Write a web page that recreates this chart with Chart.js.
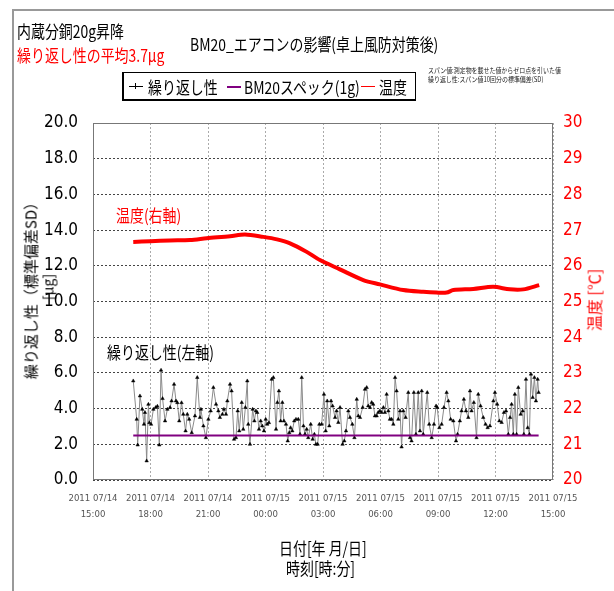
<!DOCTYPE html>
<html>
<head>
<meta charset="utf-8">
<script src="https://cdn.jsdelivr.net/npm/chart.js@4.4.0/dist/chart.umd.min.js"></script>
<style>
body { margin: 0; background: #fff; font-family: "Noto Sans CJK JP", sans-serif; }
#wrap { position: relative; width: 614px; height: 591px; overflow: hidden; }
#frame { position: absolute; left: 12px; top: 9px; width: 700px; height: 700px; border: 2px solid #999; }
#chart { position: absolute; left: 0; top: 0; }
.t { position: absolute; white-space: nowrap; line-height: 1; transform-origin: 0 50%; }
.cond { transform: scaleX(0.82); }
#legend { position: absolute; left: 122px; top: 72px; width: 291px; height: 26px; border: 1px solid #000;
  border-bottom-width: 2px; border-left-width: 2px; background: #fff; }
.sw { position: absolute; top: 13px; height: 0; }
.vert { position: absolute; white-space: nowrap; transform: translate(-50%, -50%) rotate(-90deg); text-align: center; line-height: 1.05; }
</style>
</head>
<body>
<div id="wrap">
  <div id="frame"></div>
  <canvas id="chart" width="614" height="591"></canvas>

  <div class="t cond" style="left:17px;top:22px;font-size:17px;">内蔵分銅20g昇降</div>
  <div class="t cond" style="left:17px;top:46px;font-size:17px;color:#ff0000;">繰り返し性の平均3.7μg</div>
  <div class="t cond" style="left:190px;top:35px;font-size:17px;">BM20_エアコンの影響(卓上風防対策後)</div>

  <div id="legend">
    <div class="sw" style="left:5px;width:14px;border-top:1px solid #000;"></div>
    <div class="sw" style="left:11px;top:10px;width:0;height:6px;border-left:1px solid #000;"></div>
    <div class="t cond" style="left:24px;top:5px;font-size:17px;">繰り返し性</div>
    <div class="sw" style="left:103px;width:14px;border-top:2px solid #800080;"></div>
    <div class="t cond" style="left:120px;top:5px;font-size:17px;">BM20スペック(1g)</div>
    <div class="sw" style="left:237px;width:14px;border-top:1px solid #ff0000;"></div>
    <div class="t cond" style="left:255px;top:5px;font-size:17px;">温度</div>
  </div>

  <div class="t" style="left:428px;top:66px;font-size:7px;line-height:1.25;transform:scaleX(0.85);color:#222;">スパン値:測定物を載せた値からゼロ点を引いた値<br>繰り返し性:スパン値10回分の標準偏差(SD)</div>

  <div class="vert" style="left:39px;top:287px;font-size:15px;line-height:1.1;">繰り返し性（標準偏差SD）<br><span style="font-size:14px;">[μg]</span></div>
  <div class="vert" style="left:594px;top:300px;font-size:16px;color:#ff0000;">温度 [℃]</div>

  <div class="t cond" style="left:116px;top:206px;font-size:17px;color:#ff0000;">温度(右軸)</div>
  <div class="t cond" style="left:107px;top:343px;font-size:17px;">繰り返し性(左軸)</div>

  <div class="t cond" style="left:279px;top:539px;font-size:17px;">日付[年 月/日]</div>
  <div class="t cond" style="left:286px;top:559px;font-size:17px;">時刻[時:分]</div>
</div>

<script>
// ---------- data (x = hours after 2011 07/14 15:00) ----------
const xTickLabels = [
    ["2011 07/14", "15:00"], ["2011 07/14", "18:00"], ["2011 07/14", "21:00"],
    ["2011 07/15", "00:00"], ["2011 07/15", "03:00"], ["2011 07/15", "06:00"],
    ["2011 07/15", "09:00"], ["2011 07/15", "12:00"], ["2011 07/15", "15:00"]
];

const repTimes = [
    2.10, 2.28, 2.33, 2.45, 2.57, 2.66, 2.71, 2.80, 2.89, 2.94, 3.03, 3.15, 3.27, 3.36, 3.46, 3.55, 3.63, 3.76, 3.88, 4.02,
    4.10, 4.23, 4.33, 4.40, 4.50, 4.62, 4.71, 4.83, 4.92, 5.02, 5.15, 5.32, 5.44, 5.58, 5.63, 5.76, 5.89, 6.02, 6.14, 6.28,
    6.42, 6.54, 6.62, 6.75, 6.83, 6.94, 7.01, 7.15, 7.23, 7.36, 7.46, 7.55, 7.63, 7.76, 7.84, 7.95, 8.05, 8.10, 8.19, 8.33,
    8.42, 8.50, 8.57, 8.66, 8.75, 8.83, 8.92, 9.01, 9.09, 9.18, 9.32, 9.41, 9.55, 9.62, 9.70, 9.79, 9.88, 9.96, 10.07, 10.16,
    10.24, 10.31, 10.40, 10.50, 10.59, 10.71, 10.80, 10.89, 10.98, 11.06, 11.15, 11.23, 11.36, 11.46, 11.55, 11.63, 11.72, 11.81, 11.93, 12.05,
    12.14, 12.22, 12.33, 12.42, 12.50, 12.63, 12.71, 12.80, 12.89, 13.02, 13.11, 13.20, 13.32, 13.41, 13.53, 13.64, 13.76, 13.84, 13.93, 14.07,
    14.19, 14.28, 14.36, 14.45, 14.54, 14.62, 14.71, 14.80, 14.88, 14.97, 15.06, 15.15, 15.23, 15.32, 15.41, 15.49, 15.58, 15.67, 15.76, 15.84,
    15.93, 16.02, 16.10, 16.19, 16.31, 16.45, 16.54, 16.62, 16.74, 16.85, 16.97, 17.06, 17.15, 17.23, 17.44, 17.54, 17.67, 17.79, 17.90, 17.96,
    18.07, 18.19, 18.31, 18.45, 18.54, 18.66, 18.80, 18.94, 19.02, 19.14, 19.23, 19.35, 19.46, 19.58, 19.67, 19.75, 19.87, 20.01, 20.10, 20.22,
    20.36, 20.48, 20.59, 20.71, 20.89, 20.97, 21.09, 21.20, 21.32, 21.44, 21.55, 21.67, 21.76, 21.84, 21.93, 22.01, 22.10, 22.19, 22.31, 22.42,
    22.48, 22.59, 22.68, 22.77, 22.85, 22.94, 23.03, 23.11, 23.20, 23.25
];
const repValues = [
    5.55, 3.40, 1.96, 4.71, 3.96, 3.12, 3.78, 1.07, 4.24, 3.21, 3.12, 3.96, 4.06, 4.13, 1.96, 6.15, 4.56, 3.31, 3.96, 4.06,
    4.43, 5.36, 4.43, 4.33, 3.31, 4.33, 3.68, 2.75, 3.68, 3.40, 2.65, 3.59, 5.74, 3.50, 3.96, 3.03, 2.37, 3.40, 3.87, 5.18,
    4.24, 3.87, 3.50, 3.68, 3.96, 3.68, 4.43, 5.36, 4.99, 2.28, 2.37, 3.87, 2.75, 4.34, 2.84, 4.06, 5.55, 3.12, 2.00, 3.96,
    3.31, 3.87, 3.78, 2.84, 3.31, 3.03, 2.75, 3.40, 3.12, 3.21, 5.64, 5.74, 2.84, 4.34, 4.99, 3.31, 4.34, 3.31, 3.12, 2.19,
    2.65, 2.93, 2.75, 3.31, 3.40, 3.40, 2.56, 5.74, 3.03, 2.56, 2.84, 2.37, 3.12, 2.28, 2.56, 2.00, 2.00, 3.12, 3.12, 4.80,
    2.75, 4.43, 3.03, 4.43, 4.15, 3.50, 3.87, 3.22, 4.06, 2.00, 2.19, 2.75, 3.87, 3.50, 3.12, 2.37, 4.52, 3.59, 3.50, 4.06,
    5.08, 5.18, 4.15, 4.06, 4.34, 4.24, 3.59, 3.59, 3.78, 3.87, 3.78, 4.06, 3.78, 4.80, 3.87, 3.40, 3.40, 3.12, 5.74, 4.99,
    3.40, 3.87, 1.85, 3.87, 3.50, 4.90, 2.37, 2.19, 4.90, 2.56, 4.90, 2.75, 4.99, 2.56, 4.90, 3.12, 2.37, 3.12, 4.15, 4.06,
    2.93, 3.12, 4.06, 4.90, 4.43, 3.40, 3.31, 2.19, 2.56, 3.31, 3.87, 4.52, 3.87, 3.50, 4.99, 3.87, 4.34, 2.37, 4.80, 4.15,
    3.50, 3.12, 2.93, 3.03, 4.43, 4.90, 4.24, 3.31, 3.22, 3.78, 3.87, 2.56, 3.50, 4.24, 2.56, 4.80, 2.56, 5.18, 3.68, 3.87,
    2.56, 5.64, 2.93, 2.56, 5.93, 4.62, 5.74, 4.43, 5.64, 4.90
];

const specTimes = [2.10, 23.25];
const specValues = [2.5, 2.5];

const tempTimes = [
    2.10, 3.0, 4.0, 5.06, 5.93, 7.15, 7.93, 8.89, 9.6, 10.28, 11.15, 11.84, 12.88, 14.10, 14.97,
    16.19, 17.23, 17.92, 18.45, 18.80, 19.84, 20.88, 21.75, 22.45, 23.28
];
const tempValues = [
    26.67, 26.69, 26.71, 26.72, 26.77, 26.83, 26.88, 26.81, 26.74, 26.63, 26.39, 26.16, 25.90, 25.60, 25.48,
    25.32, 25.27, 25.25, 25.25, 25.32, 25.35, 25.41, 25.34, 25.34, 25.46
];

// ---------- helpers ----------
const numFont = "'Liberation Sans Narrow', 'DejaVu Sans Condensed', 'Liberation Sans', sans-serif";

function toPoints(xs, ys) {
    return xs.map((x, i) => ({ x: x, y: ys[i] }));
}

// plot frame around the chart area
const framePlugin = {
    id: "plotFrame",
    beforeDatasetsDraw(chart) {
        const a = chart.chartArea;
        const ctx = chart.ctx;
        ctx.save();
        ctx.strokeStyle = "#777";
        ctx.lineWidth = 1;
        ctx.strokeRect(a.left + 0.5, a.top + 0.5, a.right - a.left - 1, a.bottom - a.top - 1);
        ctx.restore();
    }
};

const ctx = document.getElementById("chart").getContext("2d");
new Chart(ctx, {
    type: "line",
    data: {
        datasets: [
            {
                label: "BM20スペック(1g)",
                data: toPoints(specTimes, specValues),
                yAxisID: "y",
                borderColor: "#800080",
                borderWidth: 2,
                pointRadius: 0
            },
            {
                label: "繰り返し性",
                data: toPoints(repTimes, repValues),
                yAxisID: "y",
                borderColor: "#8a8a8a",
                borderWidth: 1,
                pointStyle: "triangle",
                pointRadius: 2,
                pointBackgroundColor: "#000",
                pointBorderColor: "#000",
                pointBorderWidth: 0.5,
                tension: 0
            },
            {
                label: "温度",
                data: toPoints(tempTimes, tempValues),
                yAxisID: "y2",
                borderColor: "#ff0000",
                borderWidth: 4,
                pointRadius: 0,
                tension: 0.3
            }
        ]
    },
    options: {
        responsive: false,
        animation: false,
        layout: { padding: { top: 123, left: 0, right: 0, bottom: 0 } },
        plugins: { legend: { display: false }, tooltip: { enabled: false } },
        scales: {
            x: {
                type: "linear",
                position: "bottom",
                min: 0,
                max: 24,
                afterFit: s => { s.height = 111; },
                ticks: {
                    stepSize: 3,
                    autoSkip: false,
                    maxRotation: 0,
                    padding: 10,
                    color: "#555",
                    font: { family: numFont, size: 9.5, lineHeight: 1.7 },
                    callback: v => xTickLabels[Math.round(v / 3)]
                },
                grid: { color: "#aaa", drawTicks: false },
                border: { display: false, dash: [2, 2] }
            },
            y: {
                position: "left",
                min: 0,
                max: 20,
                afterFit: s => { s.width = 93; },
                ticks: {
                    stepSize: 2,
                    padding: 15,
                    color: "#000",
                    font: { family: numFont, size: 17 },
                    callback: v => v.toFixed(1)
                },
                grid: { color: "#444", drawTicks: false },
                border: { display: false, dash: [2, 2] }
            },
            y2: {
                position: "right",
                min: 20,
                max: 30,
                afterFit: s => { s.width = 61; },
                ticks: {
                    stepSize: 1,
                    padding: 10,
                    color: "#ff0000",
                    font: { family: numFont, size: 17 }
                },
                grid: { drawOnChartArea: false, drawTicks: false },
                border: { display: false }
            }
        }
    },
    plugins: [framePlugin]
});
</script>
</body>
</html>
